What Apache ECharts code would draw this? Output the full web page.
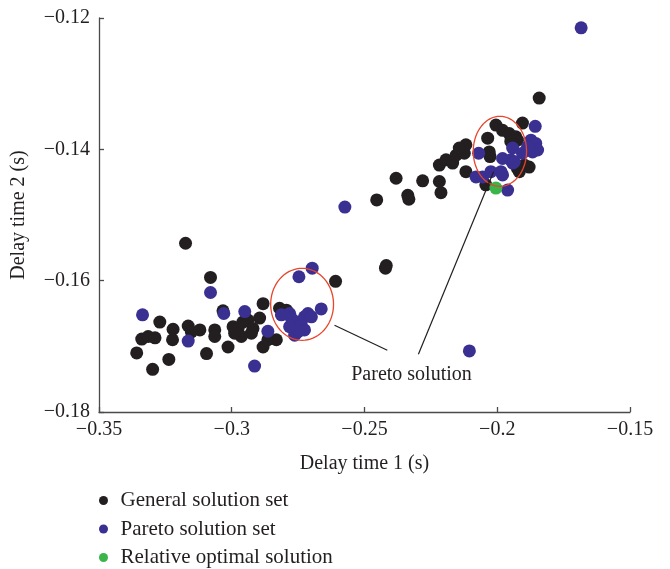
<!DOCTYPE html>
<html>
<head>
<meta charset="utf-8">
<script src="https://cdn.jsdelivr.net/npm/echarts@6/dist/echarts.min.js"></script>
<style>html,body{margin:0;padding:0;background:#fff;}#chart{width:670px;height:569px;}</style>
</head>
<body>
<div id="chart"></div>
<script>
// ---- data ----
const seriesNames = ['General solution set', 'Pareto solution set', 'Relative optimal solution'];
const xTicks = [-0.35, -0.3, -0.25, -0.2, -0.15];
const yTicks = [-0.18, -0.16, -0.14, -0.12];
const xAxisTitle = 'Delay time 1 (s)';
const yAxisTitle = 'Delay time 2 (s)';

const generalSet = [
  [-0.3174,-0.1543],[-0.3080,-0.1595],[-0.3271,-0.1663],[-0.3339,-0.1689],[-0.3315,-0.1685],
  [-0.3289,-0.1687],[-0.3221,-0.1674],[-0.3223,-0.1690],[-0.3164,-0.1669],[-0.3120,-0.1675],
  [-0.3152,-0.1678],[-0.3358,-0.1710],[-0.3237,-0.1720],[-0.3298,-0.1735],[-0.3095,-0.1711],
  [-0.2882,-0.1635],[-0.3033,-0.1646],[-0.3064,-0.1675],[-0.3064,-0.1685],[-0.2995,-0.1670],
  [-0.2976,-0.1673],[-0.2958,-0.1663],[-0.2939,-0.1660],[-0.2920,-0.1673],[-0.2926,-0.1680],
  [-0.2895,-0.1657],[-0.2964,-0.1685],[-0.2989,-0.1680],[-0.2832,-0.1690],[-0.2882,-0.1701],
  [-0.3014,-0.1701],[-0.2820,-0.1642],[-0.2807,-0.1647],[-0.2794,-0.1645],[-0.2609,-0.1601],
  [-0.2864,-0.1690],[-0.2454,-0.1477],[-0.2381,-0.1444],[-0.2337,-0.1470],[-0.2333,-0.1476],
  [-0.2281,-0.1448],[-0.2218,-0.1424],[-0.2218,-0.1449],[-0.2212,-0.1466],[-0.2193,-0.1416],
  [-0.2168,-0.1421],[-0.2155,-0.1409],[-0.2124,-0.1406],[-0.2118,-0.1393],[-0.2143,-0.1398],
  [-0.2118,-0.1434],[-0.2421,-0.1581],[-0.2418,-0.1577],[-0.2005,-0.1363],[-0.1980,-0.1371],
  [-0.1955,-0.1376],[-0.1930,-0.1381],[-0.1905,-0.1360],[-0.2036,-0.1383],[-0.2030,-0.1404],
  [-0.2027,-0.1411],[-0.1924,-0.1429],[-0.1917,-0.1434],[-0.2043,-0.1454],[-0.1842,-0.1322],
  [-0.1924,-0.1386],[-0.1949,-0.1388],[-0.1880,-0.1427],[-0.1898,-0.1424]
];
const paretoSet = [
  [-0.1684,-0.1215],[-0.3080,-0.1618],[-0.3336,-0.1652],[-0.3164,-0.1692],[-0.3030,-0.1650],
  [-0.2951,-0.1647],[-0.2864,-0.1677],[-0.2914,-0.1730],[-0.2813,-0.1652],[-0.2782,-0.1650],
  [-0.2763,-0.1663],[-0.2770,-0.1670],[-0.2697,-0.1581],[-0.2747,-0.1594],[-0.2663,-0.1643],
  [-0.2776,-0.1657],[-0.2751,-0.1663],[-0.2726,-0.1655],[-0.2713,-0.1650],[-0.2700,-0.1655],
  [-0.2738,-0.1668],[-0.2726,-0.1675],[-0.2751,-0.1678],[-0.2763,-0.1683],[-0.2782,-0.1670],
  [-0.2574,-0.1488],[-0.2105,-0.1707],[-0.2070,-0.1406],[-0.1942,-0.1398],[-0.1980,-0.1414],
  [-0.1949,-0.1416],[-0.1942,-0.1421],[-0.1905,-0.1406],[-0.2080,-0.1442],[-0.2055,-0.1442],
  [-0.2024,-0.1434],[-0.1986,-0.1434],[-0.1980,-0.1439],[-0.1961,-0.1462],[-0.1857,-0.1365],
  [-0.1873,-0.1386],[-0.1855,-0.1391],[-0.1848,-0.1401],[-0.1867,-0.1404],[-0.1886,-0.1396],
  [-0.1936,-0.1419]
];
const optimalSet = [[-0.2005,-0.1459]];

// annotation: ellipses [cx, cy, rx, ry] in data units
const ellipseMarks = [[-0.2735,-0.1636,0.01184,0.00548],[-0.1990,-0.1403,0.01004,0.00533]];
// annotation leader lines
const leaderLines = [
  [[-0.2613,-0.1668],[-0.2414,-0.1706]],
  [[-0.2297,-0.1712],[-0.2014,-0.1434]]
];
const annotationText = [[-0.2323,-0.1744,'Pareto solution']];

// ---- chart ----
const SERIF = '"Liberation Serif","DejaVu Serif",serif';
const fmt = v => {
  const r = Math.round(v * 100) / 100;
  return (r < 0 ? '\u2212' : '') + String(Math.abs(r));
};
const chart = echarts.init(document.getElementById('chart'));
const axisCommon = {
  axisLine: {show: true, onZero: false, lineStyle: {color: '#4a4a4a', width: 1.3}},
  axisTick: {show: true, inside: true, length: 5, lineStyle: {color: '#4a4a4a', width: 1.3}},
  splitLine: {show: false},
  nameTextStyle: {fontFamily: SERIF, fontSize: 20, color: '#231f20'},
  axisLabel: {fontFamily: SERIF, fontSize: 20, color: '#231f20', formatter: fmt}
};
const series = [
  {name: seriesNames[0], type: 'scatter', data: generalSet, symbolSize: 13,
   itemStyle: {color: '#231f20', opacity: 1}, z: 2},
  {name: seriesNames[1], type: 'scatter', data: paretoSet, symbolSize: 13,
   itemStyle: {color: '#3a3091', opacity: 1}, z: 3},
  {name: seriesNames[2], type: 'scatter', data: optimalSet, symbolSize: 13,
   itemStyle: {color: '#39b54a', opacity: 1}, z: 4},
  {type: 'custom', data: ellipseMarks, z: 5, silent: true,
   renderItem: function (params, api) {
     const c = api.coord([api.value(0), api.value(1)]);
     const s = api.size([api.value(2), api.value(3)]);
     const pts = [];
     for (let i = 0; i <= 72; i++) {
       const a = i / 72 * Math.PI * 2;
       pts.push([c[0] + s[0] * Math.cos(a), c[1] + s[1] * Math.sin(a)]);
     }
     return {type: 'polyline', shape: {points: pts},
       style: {stroke: '#e8452c', lineWidth: 1.3, fill: null}};
   }},
  {type: 'custom', data: leaderLines.map(l => [l[0][0], l[0][1], l[1][0], l[1][1]]), z: 6, silent: true,
   renderItem: function (params, api) {
     const a = api.coord([api.value(0), api.value(1)]);
     const b = api.coord([api.value(2), api.value(3)]);
     return {type: 'line', shape: {x1: a[0], y1: a[1], x2: b[0], y2: b[1]},
       style: {stroke: '#231f20', lineWidth: 1.2}};
   }},
  {type: 'custom', data: annotationText, z: 6, silent: true,
   renderItem: function (params, api) {
     const p = api.coord([api.value(0), api.value(1)]);
     return {type: 'text', x: p[0], y: p[1],
       style: {text: annotationText[params.dataIndex][2], font: '20px ' + SERIF,
         fill: '#231f20', align: 'center', verticalAlign: 'middle'}};
   }}
];
chart.setOption({
  animation: false,
  backgroundColor: '#fff',
  grid: {left: 99, right: 40, top: 18, bottom: 157, containLabel: false},
  xAxis: Object.assign({}, axisCommon, {
    type: 'value', min: xTicks[0], max: xTicks[xTicks.length - 1], interval: 0.05,
    name: xAxisTitle, nameLocation: 'middle', nameGap: 42,
    axisLabel: Object.assign({}, axisCommon.axisLabel, {margin: 8})
  }),
  yAxis: Object.assign({}, axisCommon, {
    type: 'value', min: yTicks[0], max: yTicks[yTicks.length - 1], interval: 0.02,
    name: yAxisTitle, nameLocation: 'middle', nameGap: 70,
    axisLabel: Object.assign({}, axisCommon.axisLabel, {margin: 9})
  }),
  legend: {
    data: seriesNames, orient: 'vertical', left: 99, top: 490, padding: 0,
    icon: 'circle', itemWidth: 24, itemHeight: 9, itemGap: 7.5,
    textStyle: {fontFamily: SERIF, fontSize: 21, color: '#231f20', lineHeight: 20}
  },
  series: series
});
</script>
</body>
</html>
